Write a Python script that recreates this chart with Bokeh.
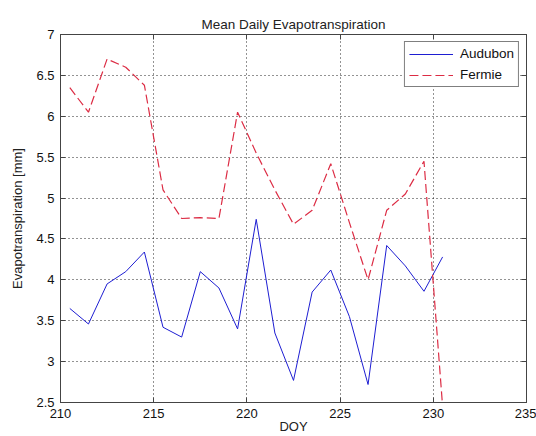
from bokeh.plotting import figure
from bokeh.models import Range1d, FixedTicker, LinearAxis, Legend, LegendItem
from bokeh.embed import file_html
from bokeh.resources import INLINE

doy = [210.5, 211.5, 212.5, 213.5, 214.5, 215.5, 216.5, 217.5, 218.5, 219.5, 220.5,
       221.5, 222.5, 223.5, 224.5, 225.5, 226.5, 227.5, 228.5, 229.5, 230.5]
audubon = [3.65, 3.46, 3.95, 4.10, 4.34, 3.42, 3.30, 4.10, 3.90, 3.40, 4.74,
           3.35, 2.77, 3.85, 4.12, 3.55, 2.72, 4.42, 4.17, 3.86, 4.28]
fermie = [6.35, 6.05, 6.70, 6.60, 6.38, 5.10, 4.75, 4.76, 4.75, 6.05, 5.55,
          5.10, 4.68, 4.85, 5.42, 4.70, 4.00, 4.85, 5.05, 5.45, 2.45]
x_ticks = [210, 215, 220, 225, 230, 235]
y_ticks = [2.5, 3, 3.5, 4, 4.5, 5, 5.5, 6, 6.5, 7]
title_text = "Mean Daily Evapotranspiration"
x_label = "DOY"
y_label = "Evapotranspiration [mm]"

FONT = "Liberation Sans"
AXIS_COLOR = "#444444"

p = figure(width=536, height=436, output_backend="svg", toolbar_location=None,
           x_range=Range1d(210, 235), y_range=Range1d(2.5, 7),
           min_border_left=60, min_border_right=10, min_border_top=34, min_border_bottom=34,
           background_fill_color="white", border_fill_color="white")

p.title.text = title_text
p.title.align = "center"
p.title.text_font = FONT
p.title.text_font_size = "13.5px"
p.title.text_font_style = "normal"
p.title.text_color = "#222222"
p.title.standoff = 5

p.outline_line_color = AXIS_COLOR
p.outline_line_width = 1

def style_axis(ax):
    ax.major_tick_in = 5
    ax.major_tick_out = 0
    ax.minor_tick_in = 5
    ax.minor_tick_out = 0
    ax.axis_line_color = AXIS_COLOR
    ax.major_tick_line_color = AXIS_COLOR
    ax.minor_tick_line_color = AXIS_COLOR
    ax.major_label_text_font = FONT
    ax.major_label_text_color = "#111111"
    ax.major_label_text_font_size = "13px"

xa = p.xaxis[0]
ya = p.yaxis[0]
xa.ticker = FixedTicker(ticks=x_ticks, minor_ticks=[])
ya.ticker = FixedTicker(ticks=y_ticks, minor_ticks=[])
style_axis(xa)
style_axis(ya)
xa.major_label_overrides = {t: ("%g" % t) for t in x_ticks}
ya.major_label_overrides = {t: ("%g" % t) for t in y_ticks}
xa.major_label_standoff = 6
ya.major_label_standoff = 6
xa.axis_label = x_label
ya.axis_label = y_label
for ax in (xa, ya):
    ax.axis_label_text_font = FONT
    ax.axis_label_text_font_size = "13px"
    ax.axis_label_text_font_style = "normal"
    ax.axis_label_text_color = "#222222"
xa.axis_label_standoff = -2
ya.axis_label_standoff = 8

# top and right box ticks (minor ticks only, so no labels are drawn)
top_ax = LinearAxis(ticker=FixedTicker(ticks=[], minor_ticks=x_ticks))
right_ax = LinearAxis(ticker=FixedTicker(ticks=[], minor_ticks=y_ticks))
style_axis(top_ax)
style_axis(right_ax)
p.add_layout(top_ax, "above")
p.add_layout(right_ax, "right")

p.xgrid.ticker = FixedTicker(ticks=x_ticks, minor_ticks=[])
p.ygrid.ticker = FixedTicker(ticks=y_ticks, minor_ticks=[])
for g in (p.xgrid, p.ygrid):
    g.grid_line_color = "black"
    g.grid_line_dash = "1 3"
    g.grid_line_alpha = 0.85

r1 = p.line(doy, audubon, line_color="#1e1ed2", line_width=1)
r2 = p.line(doy, fermie, line_color="#dc2c44", line_width=1.2, line_dash="9 4")

legend = Legend(items=[LegendItem(label="Audubon", renderers=[r1]),
                       LegendItem(label="Fermie", renderers=[r2])],
                location="top_right")
legend.label_text_font = FONT
legend.label_text_font_size = "13.5px"
legend.label_text_color = "#111111"
legend.border_line_color = "black"
legend.border_line_width = 1
legend.glyph_width = 44
legend.glyph_height = 14
legend.label_height = 14
legend.label_standoff = 7
legend.spacing = 6
legend.padding = 4
legend.margin = 7
legend.background_fill_alpha = 1
p.add_layout(legend, "center")

open("out.html", "w").write(file_html(p, INLINE))
